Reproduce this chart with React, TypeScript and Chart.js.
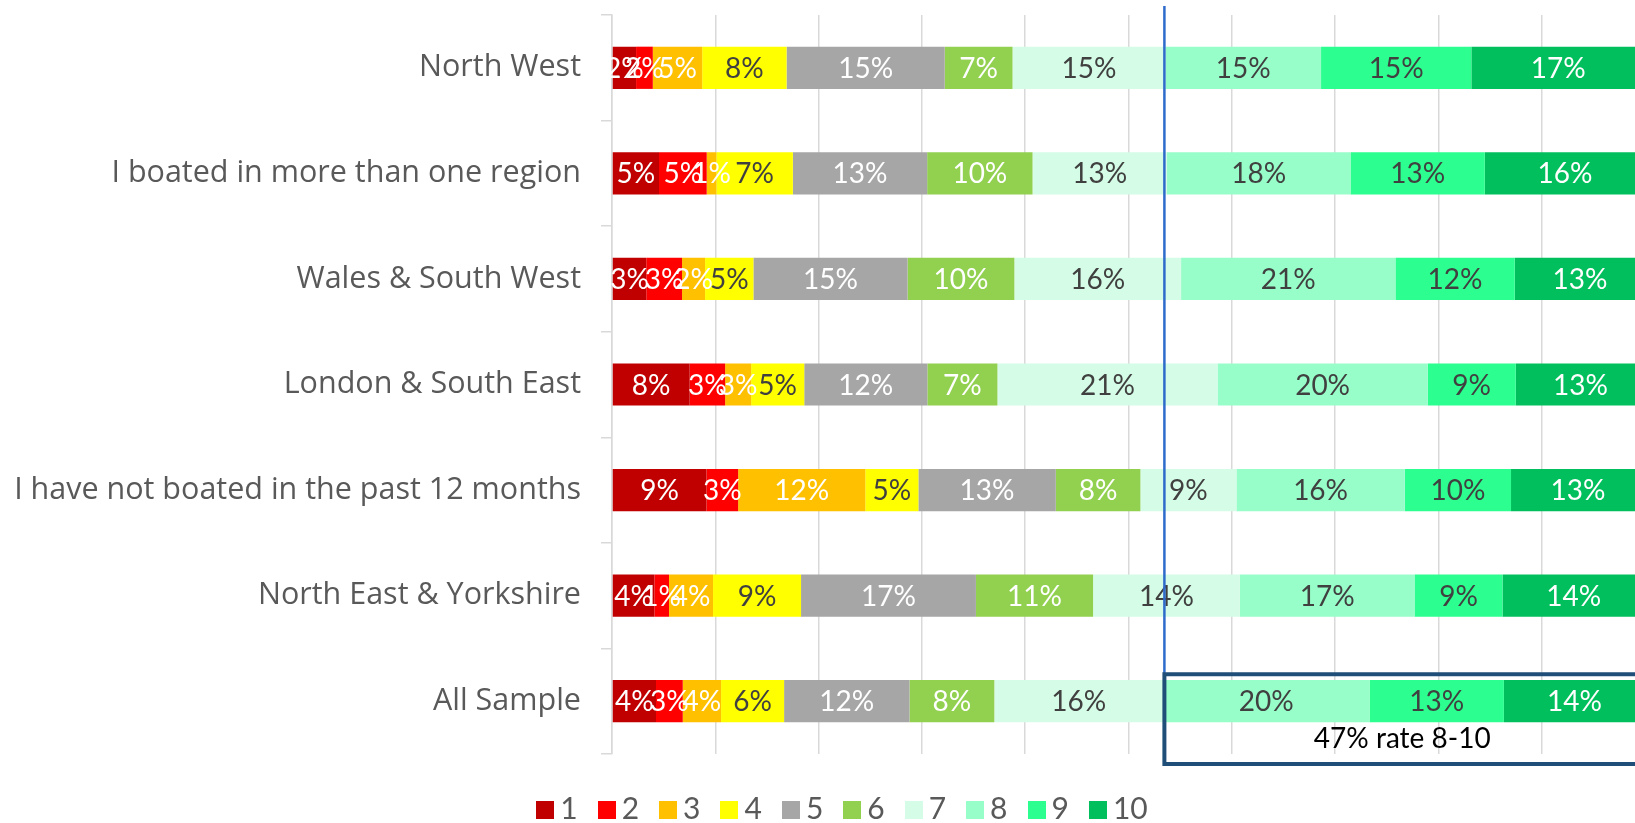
import React, { useEffect, useRef } from "react";
import { Chart, registerables } from "chart.js";

Chart.register(...registerables);

// ---------- data ----------
const categories = [
  "North West",
  "I boated in more than one region",
  "Wales & South West",
  "London & South East",
  "I have not boated in the past 12 months",
  "North East & Yorkshire",
  "All Sample",
];

const ratingNames = ["1", "2", "3", "4", "5", "6", "7", "8", "9", "10"];

const rating1 = [2.33, 4.55, 3.32, 7.52, 9.14, 4.1, 4.26];
const rating2 = [1.62, 4.62, 3.46, 3.43, 3.07, 1.42, 2.59];
const rating3 = [4.78, 0.94, 2.23, 2.52, 12.31, 4.26, 3.71];
const rating4 = [8.17, 7.4, 4.68, 5.14, 5.14, 8.52, 6.1];
const rating5 = [15.31, 13.0, 14.92, 11.92, 13.3, 16.93, 12.14];
const rating6 = [6.56, 10.2, 10.34, 6.78, 8.19, 11.34, 8.21];
const rating7 = [14.8, 13.02, 16.14, 21.31, 9.3, 14.2, 16.32];
const rating8 = [15.07, 17.76, 20.75, 20.34, 16.29, 16.92, 20.01];
const rating9 = [14.55, 13.0, 11.55, 8.53, 10.29, 8.52, 13.0];
const rating10 = [16.81, 15.51, 12.61, 12.51, 12.97, 13.79, 13.66];

const seriesValues = [rating1, rating2, rating3, rating4, rating5, rating6, rating7, rating8, rating9, rating10];

// highlighted group: ratings 8-10 of "All Sample"
const highlightRow = categories.length - 1;
const highlightFrom = 7; // index of rating "8"
const boxLabelValue = 76.5; // x position (% axis) of the box caption

// ---------- styles ----------
const barColors = [
  "#C00000",
  "#FF0000",
  "#FFC000",
  "#FFFF00",
  "#A6A6A6",
  "#92D050",
  "#D5FCE6",
  "#97FDC9",
  "#2CFE8F",
  "#00BF5C",
];
const labelColors = ["#FFFFFF", "#FFFFFF", "#FFFFFF", "#404040", "#FFFFFF", "#FFFFFF", "#404040", "#404040", "#404040", "#FFFFFF"];
const FONT = "Lato";
const AXIS_FONT = "'Open Sans'";

const segLabels = {
  id: "segLabels",
  afterDatasetsDraw(chart: any) {
    const ctx = chart.ctx;
    ctx.save();
    ctx.font = `28px ${FONT}`;
    ctx.textAlign = "center";
    ctx.textBaseline = "middle";
    chart.data.datasets.forEach((ds: any, i: number) => {
      const meta = chart.getDatasetMeta(i);
      meta.data.forEach((bar: any, j: number) => {
        const v = ds.data[j];
        const p = bar.getProps(["x", "y", "base"], true);
        ctx.fillStyle = labelColors[i];
        ctx.fillText(Math.round(v) + "%", (p.x + p.base) / 2, p.y + 1);
      });
    });
    ctx.restore();
  },
};

const annotation = {
  id: "rateBox",
  afterDraw(chart: any) {
    const ctx = chart.ctx;
    const xs = chart.scales.x;
    const ys = chart.scales.y;
    let before = 0;
    let share = 0;
    seriesValues.forEach((vals, i) => {
      if (i < highlightFrom) before += vals[highlightRow];
      else share += vals[highlightRow];
    });
    const x0 = xs.getPixelForValue(before) + 1.5;
    const lastY = ys.getPixelForValue(highlightRow);
    const band = ys.getPixelForValue(1) - ys.getPixelForValue(0);
    const boxTop = lastY - band * 0.256;
    const boxBottom = chart.chartArea.bottom + 10;
    ctx.save();
    // vertical line
    ctx.strokeStyle = "#2F6BCB";
    ctx.lineWidth = 2.5;
    ctx.beginPath();
    ctx.moveTo(x0, 6);
    ctx.lineTo(x0, boxTop);
    ctx.stroke();
    // box
    ctx.strokeStyle = "#1F4E79";
    ctx.lineWidth = 4;
    ctx.beginPath();
    ctx.moveTo(chart.width + 10, boxTop);
    ctx.lineTo(x0, boxTop);
    ctx.lineTo(x0, boxBottom);
    ctx.lineTo(chart.width + 10, boxBottom);
    ctx.stroke();
    // text
    ctx.fillStyle = "#000000";
    ctx.font = `28px ${FONT}`;
    ctx.textAlign = "center";
    ctx.textBaseline = "middle";
    ctx.fillText(`${Math.round(share)}% rate 8-10`, xs.getPixelForValue(boxLabelValue), lastY + band * 0.36);
    ctx.restore();
  },
};

export default function App() {
  const canvasRef = useRef<HTMLCanvasElement | null>(null);

  useEffect(() => {
    if (!canvasRef.current) return;
    const chart = new Chart(canvasRef.current, {
      type: "bar",
      data: {
        labels: categories,
        datasets: seriesValues.map((vals, i) => ({
          label: ratingNames[i],
          data: vals,
          backgroundColor: barColors[i],
          borderWidth: 0,
          barPercentage: 0.4,
          categoryPercentage: 1,
        })),
      },
      options: {
        indexAxis: "y",
        animation: false,
        responsive: true,
        maintainAspectRatio: false,
        layout: { padding: { top: 15, bottom: 69, left: 0, right: 0 } },
        plugins: {
          legend: { display: false },
          tooltip: { enabled: false },
        },
        scales: {
          x: {
            stacked: true,
            min: 0,
            max: 100,
            ticks: { display: false, stepSize: 10 },
            grid: { color: "#D9D9D9", lineWidth: 1.5, drawTicks: false },
            border: { display: false },
          },
          y: {
            stacked: true,
            afterFit: (s: any) => {
              s.width = 612;
              s.paddingTop = 0;
              s.paddingBottom = 0;
            },
            ticks: {
              color: "#595959",
              padding: 20,
              font: { family: AXIS_FONT, size: 30.5 },
            },
            grid: {
              drawOnChartArea: false,
              drawTicks: true,
              tickLength: 11,
              color: "#D9D9D9",
              lineWidth: 1.5,
            },
            border: { display: true, color: "#D9D9D9", width: 1.5 },
          },
        },
      },
      plugins: [segLabels, annotation],
    } as any);
    const fs = (document as any).fonts;
    if (fs && fs.load) {
      Promise.all([fs.load(`28px ${FONT}`), fs.load(`31px ${AXIS_FONT}`)]).then(() => chart.update());
    }
    return () => chart.destroy();
  }, []);

  return (
    <div style={{ position: "fixed", left: 0, top: 0, width: 1635, height: 823, overflow: "hidden", background: "#fff" }}>
      <div style={{ position: "absolute", left: 0, top: 0, width: 1645, height: 823 }}>
        <canvas ref={canvasRef} />
      </div>
      <div
        style={{
          position: "absolute",
          left: 0,
          width: 1684,
          top: 792,
          display: "flex",
          justifyContent: "center",
          alignItems: "baseline",
          fontFamily: FONT,
          fontSize: 30,
          lineHeight: "30px",
          color: "#595959",
          pointerEvents: "none",
        }}
      >
        {ratingNames.map((n, i) => (
          <div key={n} style={{ display: "flex", alignItems: "baseline", marginRight: i === ratingNames.length - 1 ? 0 : 20 }}>
            <span style={{ display: "inline-block", width: 18, height: 18, background: barColors[i], marginRight: 6 }} />
            <span>{n}</span>
          </div>
        ))}
      </div>
    </div>
  );
}
